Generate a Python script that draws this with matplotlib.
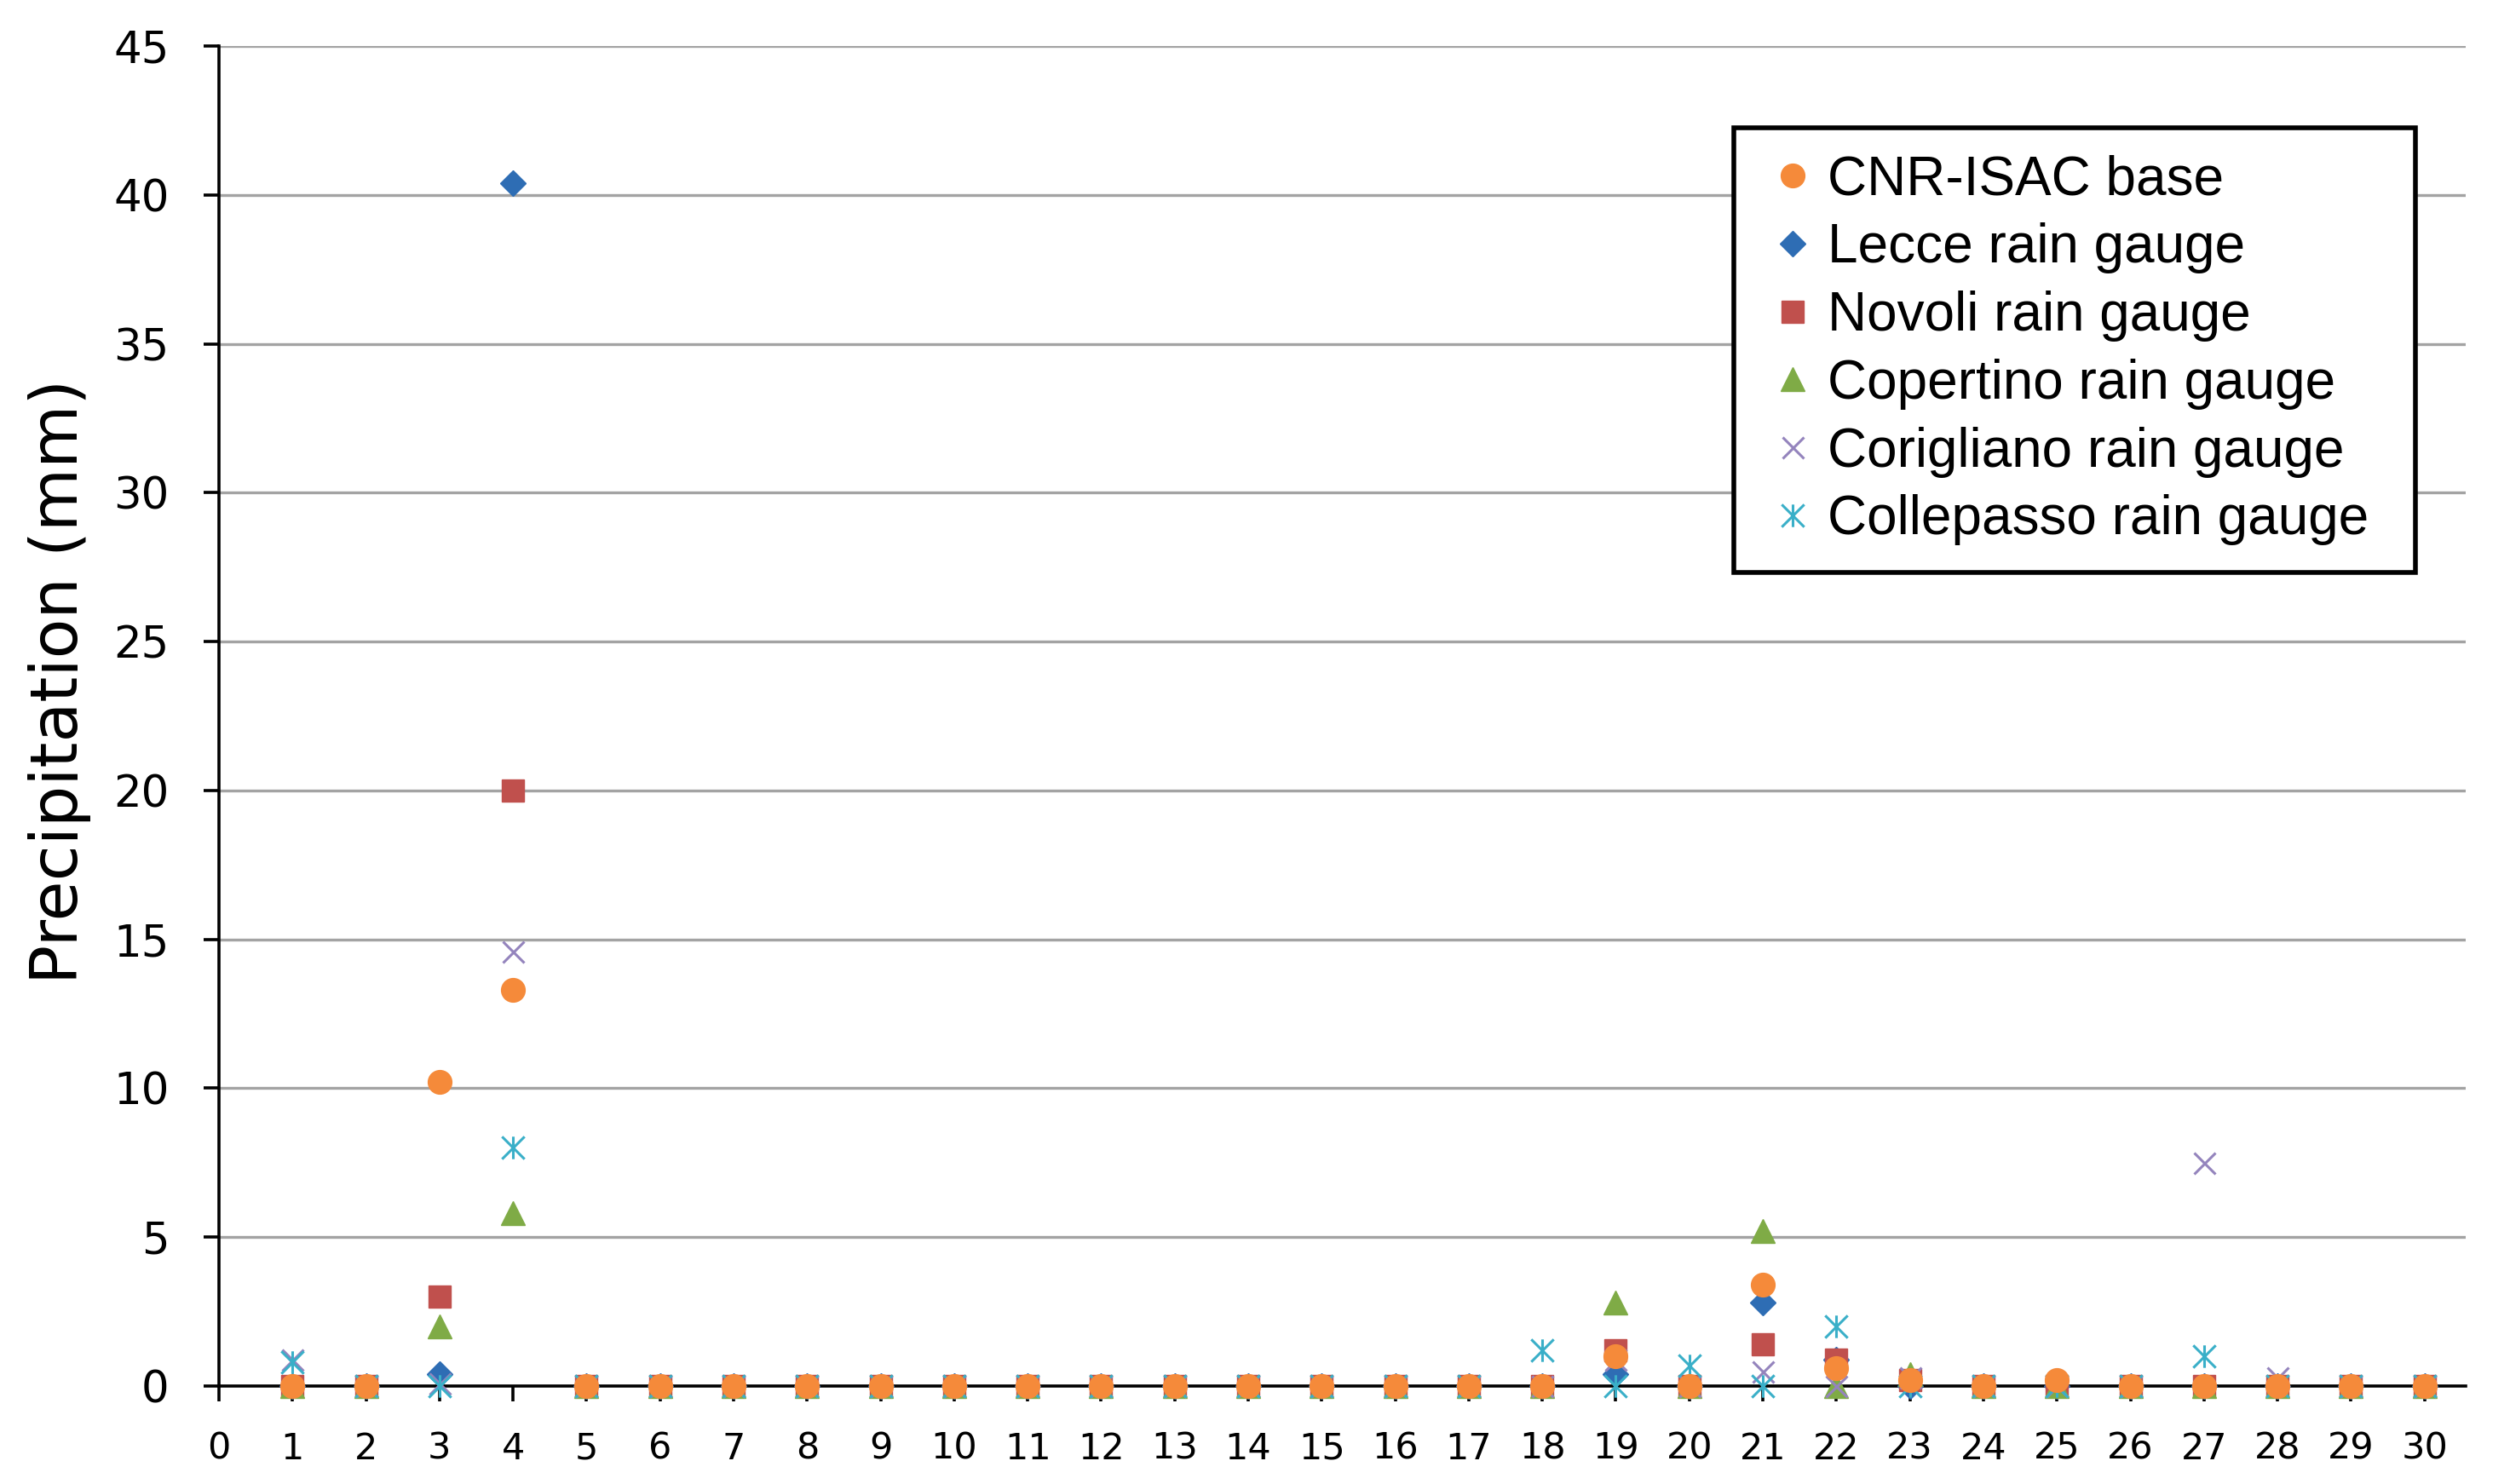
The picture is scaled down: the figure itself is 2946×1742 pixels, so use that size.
import matplotlib
matplotlib.use("Agg")
import matplotlib.pyplot as plt
from matplotlib.path import Path

days = list(range(1, 31))

cnr_base = [0, 0, 10.2, 13.3, 0, 0, 0, 0, 0, 0, 0, 0, 0, 0, 0, 0, 0, 0, 1.0, 0, 3.4, 0.6, 0.2, 0, 0.2, 0, 0, 0, 0, 0]
lecce = [0, 0, 0.4, 40.4, 0, 0, 0, 0, 0, 0, 0, 0, 0, 0, 0, 0, 0, 0, 0.4, 0, 2.8, 0.9, 0, 0, 0, 0, 0, 0, 0, 0]
novoli = [0, 0, 3.0, 20.0, 0, 0, 0, 0, 0, 0, 0, 0, 0, 0, 0, 0, 0, 0, 1.2, 0, 1.4, 0.9, 0.2, 0, 0, 0, 0, 0, 0, 0]
copertino = [0, 0, 2.0, 5.8, 0, 0, 0, 0, 0, 0, 0, 0, 0, 0, 0, 0, 0, 0, 2.8, 0, 5.2, 0, 0.4, 0, 0, 0, 0, 0, 0, 0]
corigliano = [0.9, 0, 0.1, 14.6, 0, 0, 0, 0, 0, 0, 0, 0, 0, 0, 0, 0, 0, 0, 0.9, 0, 0.5, 0, 0.3, 0, 0, 0, 7.5, 0.3, 0, 0]
collepasso = [0.8, 0, 0, 8.0, 0, 0, 0, 0, 0, 0, 0, 0, 0, 0, 0, 0, 0, 1.2, 0, 0.7, 0, 2.0, 0, 0, 0, 0, 1.0, 0, 0, 0]

x_ticks = list(range(0, 31))
y_ticks = list(range(0, 46, 5))

W, H = 2946, 1742
fig = plt.figure(figsize=(W / 100, H / 100), dpi=100)
ax = fig.add_axes([257 / W, 1 - 1627 / H, (2894 - 257) / W, (1627 - 54) / H])

asterisk = Path([(-0.5, -0.5), (0.5, 0.5), (-0.5, 0.5), (0.5, -0.5), (0, -0.5), (0, 0.5)],
                [Path.MOVETO, Path.LINETO, Path.MOVETO, Path.LINETO, Path.MOVETO, Path.LINETO])

c_orange = '#F58A3A'
c_blue = '#2E6DB4'
c_red = '#C0504D'
c_green = '#7FAB46'
c_purple = '#9484BD'
c_cyan = '#3AAFC8'

h_lecce, = ax.plot(days, lecce, ls='none', marker='D', ms=15, color=c_blue, zorder=3, clip_on=False)
h_novoli, = ax.plot(days, novoli, ls='none', marker='s', ms=19, color=c_red, zorder=4, clip_on=False)
h_cop, = ax.plot(days, copertino, ls='none', marker='^', ms=20, color=c_green, zorder=5, clip_on=False)
h_cor, = ax.plot(days, corigliano, ls='none', marker='x', ms=18, mew=2.2, color=c_purple, zorder=6, clip_on=False)
h_col, = ax.plot(days, collepasso, ls='none', marker=asterisk, ms=19, mew=2.2, mfc='none', mec=c_cyan,
                 color=c_cyan, zorder=7, clip_on=False)
h_cnr, = ax.plot(days, cnr_base, ls='none', marker='o', ms=20, color=c_orange, zorder=8, clip_on=False)

ax.set_xlim(0, 30.56)
ax.set_ylim(0, 45)
ax.set_xticks(x_ticks)
ax.set_yticks(y_ticks)
ax.set_xticklabels([str(v) for v in x_ticks])
ax.set_yticklabels([str(v) for v in y_ticks])

ax.grid(axis='y', color='#A3A3A3', lw=2.4)
ax.grid(axis='x', visible=False)
ax.set_axisbelow(True)
for s in ['top', 'right']:
    ax.spines[s].set_visible(False)
for s in ['left', 'bottom']:
    ax.spines[s].set_color('black')
    ax.spines[s].set_linewidth(2.6)

ax.tick_params(axis='both', direction='out', length=13, width=2.6, color='black', labelcolor='black')
ax.tick_params(axis='y', pad=29, labelsize=37)
ax.tick_params(axis='x', pad=25, labelsize=31)
for lab in ax.get_xticklabels() + ax.get_yticklabels():
    lab.set_family('DejaVu Sans')

fig.text(70 / W, 1 - 800 / H, 'Precipitation (mm)', rotation=90, ha='center', va='center',
         fontsize=55, family='DejaVu Sans', color='black')

leg = ax.legend([h_cnr, h_lecce, h_novoli, h_cop, h_cor, h_col],
                ['CNR-ISAC base', 'Lecce rain gauge', 'Novoli rain gauge', 'Copertino rain gauge',
                 'Corigliano rain gauge', 'Collepasso rain gauge'],
                loc='upper left', bbox_to_anchor=(2035 / W, 1 - 671 / H, 800 / W, 521 / H),
                bbox_transform=fig.transFigure, mode='expand', borderaxespad=0,
                prop={'family': 'Liberation Sans', 'size': 46},
                fancybox=False, framealpha=1, edgecolor='black',
                handlelength=1.18, handletextpad=0.05, borderpad=0.49, labelspacing=0.31)
leg.get_frame().set_linewidth(4)
leg.set_zorder(10)

fig.savefig('out.png', dpi=100)
